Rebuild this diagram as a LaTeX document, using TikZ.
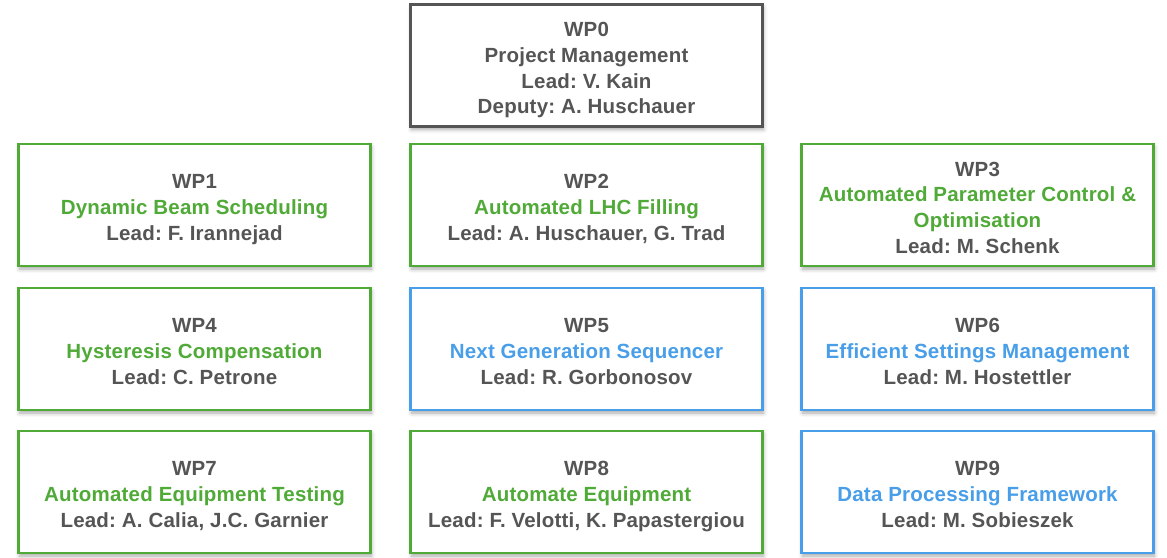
\documentclass[tikz,border=0pt]{standalone}
\usepackage{fontspec}
\setmainfont[LetterSpace=1.0]{Liberation Sans}
\usetikzlibrary{shadows.blur}
\frenchspacing
\definecolor{txtgray}{RGB}{85,85,85}
\definecolor{wpgreen}{RGB}{80,170,55}
\definecolor{wpblue}{RGB}{72,158,232}
\tikzset{
  wpbox/.style={draw, line width=2.8pt, fill=white, minimum width=352pt, minimum height=122pt,
    inner sep=0pt,
    blur shadow={shadow xshift=1pt, shadow yshift=-3pt, shadow blur radius=4pt, shadow opacity=35}},
  wptext/.style={align=center, text=txtgray, inner sep=0pt, yshift=-6.5pt,
    font=\fontsize{20.5}{25.8}\selectfont\bfseries,
    execute at begin node=\strut, execute at end node=\strut},
  graybox/.style={wpbox, draw=txtgray},
  greenbox/.style={wpbox, draw=wpgreen},
  bluebox/.style={wpbox, draw=wpblue}
}
\newcommand{\gr}[1]{\textcolor{wpgreen}{#1}}
\newcommand{\bl}[1]{\textcolor{wpblue}{#1}}
\newcommand{\wpnode}[4]{\node[#1] (#2) at (#3) {};
  \node[wptext] (#2t) at (#2.center) {#4};}
\begin{document}
\begin{tikzpicture}[x=1pt,y=1pt]
\useasboundingbox (0,0) rectangle (1167,-557);
\wpnode{graybox}{wp0}{586.5,-65.5}{WP0\\Project Management\\Lead: V. Kain\\Deputy: A. Huschauer}
\wpnode{greenbox}{wp1}{194.5,-205}{WP1\\\gr{Dynamic Beam Scheduling}\\Lead: F. Irannejad}
\wpnode{greenbox}{wp2}{586.5,-205}{WP2\\\gr{Automated LHC Filling}\\Lead: A. Huschauer, G. Trad}
\wpnode{greenbox}{wp3}{977.5,-205}{WP3\\\gr{Automated Parameter Control \&}\\\gr{Optimisation}\\Lead: M. Schenk}
\wpnode{greenbox}{wp4}{194.5,-349}{WP4\\\gr{Hysteresis Compensation}\\Lead: C. Petrone}
\wpnode{bluebox}{wp5}{586.5,-349}{WP5\\\bl{Next Generation Sequencer}\\Lead: R. Gorbonosov}
\wpnode{bluebox}{wp6}{977.5,-349}{WP6\\\bl{Efficient Settings Management}\\Lead: M. Hostettler}
\wpnode{greenbox}{wp7}{194.5,-492}{WP7\\\gr{Automated Equipment Testing}\\Lead: A. Calia, J.C. Garnier}
\wpnode{greenbox}{wp8}{586.5,-492}{WP8\\\gr{Automate Equipment}\\Lead: F. Velotti, K. Papastergiou}
\wpnode{bluebox}{wp9}{977.5,-492}{WP9\\\bl{Data Processing Framework}\\Lead: M. Sobieszek}
\end{tikzpicture}
\end{document}
